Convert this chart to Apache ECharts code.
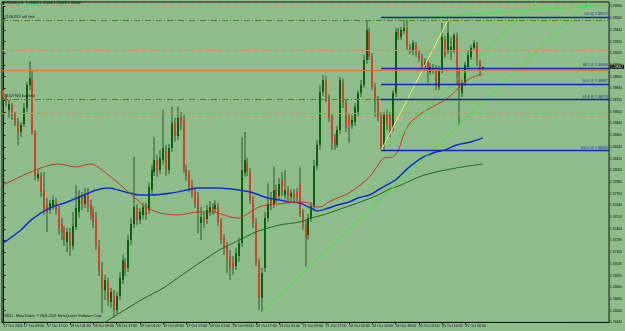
<!DOCTYPE html>
<html><head><meta charset="utf-8">
<script src="https://cdn.jsdelivr.net/npm/echarts/dist/echarts.min.js"></script>
<style>html,body{margin:0;padding:0;background:#8ebc8a}#c{width:625px;height:331px}</style>
</head><body><div id="c"></div><script>
// ---- data ----
const slotCount = 209; // hourly slots incl. empty right shift
const xTickIdx = [0,7,15,23,31,39,47,55,63,71,79,87,95,103,111,119,127,135,143,151,159];
const xTickText = ['17 Oct 2011','17 Oct 09:00','17 Oct 17:00','18 Oct 01:00','18 Oct 09:00','18 Oct 17:00','19 Oct 01:00','19 Oct 09:00','19 Oct 17:00','20 Oct 01:00','20 Oct 09:00','20 Oct 17:00','21 Oct 01:00','21 Oct 09:00','21 Oct 17:00','24 Oct 02:00','24 Oct 10:00','24 Oct 18:00','25 Oct 02:00','25 Oct 10:00','25 Oct 18:00'];
const yMin = 1.3644, yMax = 1.39726, yStep = 0.0012;
// [open, high, low, close]
const candles = [
[1.38824,1.38855,1.38691,1.38742],[1.38752,1.38783,1.38650,1.38701],[1.38619,1.38721,1.38537,1.38680],[1.38670,1.38691,1.38516,1.38568],
[1.38568,1.38598,1.38455,1.38496],[1.38496,1.38537,1.38260,1.38393],[1.38393,1.38496,1.38342,1.38465],[1.38475,1.38691,1.38444,1.38639],
[1.38639,1.38906,1.38598,1.38875],[1.38875,1.39121,1.38824,1.38947],[1.38927,1.39029,1.38362,1.38383],[1.38383,1.38414,1.37901,1.37942],
[1.37921,1.38003,1.37891,1.37962],[1.37952,1.37983,1.37727,1.37778],[1.37798,1.37983,1.37542,1.37573],[1.37645,1.37716,1.37368,1.37562],
[1.37593,1.37696,1.37552,1.37665],[1.37634,1.37737,1.37593,1.37696],[1.37675,1.37716,1.37542,1.37593],[1.37593,1.37634,1.37337,1.37409],
[1.37450,1.37511,1.37286,1.37357],[1.37388,1.37429,1.37224,1.37286],[1.37265,1.37409,1.37162,1.37368],[1.37368,1.37409,1.37121,1.37224],
[1.37224,1.37573,1.37183,1.37429],[1.37419,1.37850,1.37388,1.37614],[1.37573,1.37798,1.37511,1.37737],[1.37737,1.37778,1.37593,1.37645],
[1.37655,1.37819,1.37614,1.37747],[1.37778,1.37819,1.37573,1.37624],[1.37645,1.37696,1.37491,1.37542],[1.37573,1.37624,1.37409,1.37470],
[1.37511,1.37573,1.37183,1.37224],[1.37224,1.37286,1.36916,1.36978],[1.36978,1.37060,1.36537,1.36773],[1.36773,1.36927,1.36670,1.36875],
[1.36855,1.36896,1.36609,1.36670],[1.36650,1.36793,1.36589,1.36752],[1.36721,1.36773,1.36486,1.36568],[1.36568,1.36752,1.36527,1.36711],
[1.36711,1.36957,1.36670,1.36896],[1.36875,1.37132,1.36834,1.37080],[1.37060,1.37101,1.36916,1.36978],[1.36998,1.37337,1.36957,1.37286],
[1.37286,1.37511,1.37234,1.37450],[1.37450,1.38137,1.37409,1.37624],[1.37614,1.37655,1.37439,1.37491],[1.37491,1.37614,1.37450,1.37573],
[1.37542,1.37665,1.37501,1.37624],[1.37624,1.37665,1.37491,1.37542],[1.37593,1.37870,1.37552,1.37829],[1.37798,1.38055,1.37757,1.38003],
[1.37983,1.38342,1.37942,1.38106],[1.38106,1.38157,1.37932,1.37983],[1.38003,1.38209,1.37962,1.38127],[1.38106,1.38619,1.38055,1.38229],
[1.38209,1.38260,1.37942,1.38003],[1.38003,1.38270,1.37962,1.38229],[1.38229,1.38650,1.38188,1.38486],[1.38486,1.38537,1.38291,1.38352],
[1.38352,1.38650,1.38311,1.38537],[1.38537,1.38598,1.38414,1.38465],[1.38516,1.38568,1.37973,1.38003],[1.38003,1.38055,1.37891,1.37942],
[1.37962,1.38003,1.37778,1.37829],[1.37850,1.37901,1.37716,1.37768],[1.37778,1.37819,1.37614,1.37665],[1.37737,1.37778,1.37357,1.37562],
[1.37460,1.37624,1.37286,1.37521],[1.37521,1.37573,1.37409,1.37470],[1.37501,1.37645,1.37450,1.37593],[1.37573,1.37685,1.37532,1.37624],
[1.37624,1.37665,1.37542,1.37583],[1.37603,1.37696,1.37562,1.37645],[1.37634,1.37665,1.37429,1.37470],[1.37470,1.37511,1.37244,1.37286],
[1.37306,1.37347,1.37132,1.37204],[1.37224,1.37265,1.36947,1.37101],[1.37121,1.37183,1.36875,1.37009],[1.37060,1.37121,1.36927,1.36998],
[1.37019,1.37204,1.36978,1.37152],[1.37121,1.37306,1.37060,1.37255],[1.37255,1.38342,1.37214,1.38003],[1.37973,1.38393,1.37932,1.38106],
[1.38075,1.38127,1.37942,1.37983],[1.37983,1.38024,1.37655,1.37696],[1.37696,1.37737,1.37409,1.37460],[1.37460,1.37511,1.37019,1.37050],
[1.37050,1.37101,1.36568,1.36691],[1.36691,1.36998,1.36547,1.36947],[1.36998,1.37573,1.36957,1.37511],[1.37511,1.37870,1.37470,1.37655],
[1.37716,1.37778,1.37593,1.37645],[1.37655,1.38034,1.37614,1.37798],[1.37798,1.37850,1.37665,1.37706],[1.37737,1.37921,1.37696,1.37860],
[1.37901,1.37983,1.37737,1.37778],[1.37747,1.38003,1.37706,1.37798],[1.37798,1.37839,1.37685,1.37727],[1.37727,1.37809,1.37685,1.37768],
[1.37768,1.37809,1.37675,1.37716],[1.37778,1.37819,1.37685,1.37727],[1.37860,1.38034,1.37521,1.37562],[1.37562,1.37603,1.37388,1.37439],
[1.37439,1.37491,1.37009,1.37306],[1.37337,1.37552,1.37286,1.37511],[1.37511,1.37675,1.37470,1.37634],[1.37634,1.38106,1.37593,1.38045],
[1.38045,1.38311,1.38003,1.38260],[1.38260,1.38875,1.38209,1.38803],[1.38803,1.38978,1.38762,1.38927],[1.38927,1.38968,1.38701,1.38742],
[1.38732,1.38773,1.38496,1.38537],[1.38537,1.38578,1.38209,1.38291],[1.38332,1.38373,1.38209,1.38260],[1.38260,1.38455,1.38229,1.38414],
[1.38414,1.38957,1.38373,1.38927],[1.38906,1.38937,1.38639,1.38691],[1.38691,1.38721,1.38393,1.38434],[1.38537,1.38578,1.38280,1.38465],
[1.38465,1.38568,1.38424,1.38516],[1.38496,1.38691,1.38455,1.38650],[1.38598,1.38824,1.38557,1.38793],[1.38793,1.38927,1.38752,1.38875],
[1.38875,1.39183,1.38844,1.39132],[1.39132,1.39532,1.39091,1.39439],[1.39419,1.39460,1.39132,1.39162],[1.39162,1.39203,1.38824,1.38855],
[1.38855,1.38896,1.38547,1.38721],[1.38721,1.38762,1.38506,1.38547],[1.38547,1.38598,1.38202,1.38239],[1.38260,1.38598,1.38209,1.38568],
[1.38588,1.38619,1.38414,1.38465],[1.38568,1.38598,1.38342,1.38383],[1.38444,1.38824,1.38403,1.38793],[1.38793,1.39460,1.38752,1.39419],
[1.39419,1.39460,1.39337,1.39378],[1.39368,1.39470,1.39337,1.39439],[1.39429,1.39542,1.39398,1.39460],[1.39460,1.39542,1.39234,1.39265],
[1.39265,1.39296,1.39193,1.39234],[1.39234,1.39337,1.39183,1.39306],[1.39285,1.39316,1.39162,1.39203],[1.39203,1.39234,1.39111,1.39152],
[1.39162,1.39193,1.39029,1.39060],[1.39060,1.39152,1.39029,1.39111],[1.39111,1.39142,1.38896,1.39009],[1.39009,1.39101,1.38978,1.39060],
[1.39060,1.39091,1.38988,1.39029],[1.39050,1.39080,1.38824,1.38855],[1.38855,1.39070,1.38824,1.39029],[1.39029,1.39511,1.38998,1.39368],
[1.39337,1.39378,1.39152,1.39183],[1.39234,1.39572,1.39193,1.39409],[1.39234,1.39368,1.39132,1.39265],[1.39234,1.39409,1.39203,1.39388],
[1.39368,1.39409,1.38875,1.39009],[1.39009,1.39050,1.38465,1.38844],[1.38793,1.38927,1.38752,1.38896],[1.38896,1.39111,1.38865,1.39080],
[1.39060,1.39234,1.39029,1.39183],[1.39162,1.39285,1.39132,1.39255],[1.39255,1.39337,1.39234,1.39306],[1.39285,1.39316,1.39070,1.39111],
[1.39111,1.39132,1.38968,1.39019],[1.39053,1.39066,1.39026,1.39062]
];
// moving averages read at bar positions: [bar, price]
const maRed = [[0,1.37850],[11,1.38003],[19,1.38065],[25,1.38034],[30,1.38065],[32,1.38045],[37,1.37932],[43,1.37778],[49,1.37624],[54,1.37562],[60,1.37542],[67,1.37573],[71,1.37573],[74,1.37562],[78,1.37521],[81,1.37511],[85,1.37573],[88,1.37624],[91,1.37645],[98,1.37665],[102,1.37675],[105,1.37665],[107,1.37624],[109,1.37624],[112,1.37675],[115,1.37716],[119,1.37768],[122,1.37829],[126,1.37932],[129,1.38055],[131,1.38127],[134,1.38137],[136,1.38209],[138,1.38383],[140,1.38486],[144,1.38588],[147,1.38639],[152,1.38721],[155,1.38793],[157,1.38855],[159,1.38906],[161,1.38947],[165,1.38988]];
const maBlue = [[0,1.37255],[6,1.37388],[10,1.37501],[16,1.37614],[22,1.37675],[27,1.37737],[32,1.37798],[36,1.37819],[42,1.37778],[47,1.37747],[51,1.37747],[58,1.37768],[63,1.37798],[67,1.37819],[74,1.37819],[81,1.37798],[85,1.37778],[88,1.37747],[91,1.37716],[95,1.37696],[98,1.37675],[102,1.37665],[105,1.37624],[108,1.37583],[112,1.37614],[115,1.37645],[119,1.37675],[122,1.37716],[126,1.37747],[129,1.37798],[132,1.37850],[135,1.37901],[139,1.38014],[144,1.38127],[149,1.38188],[152,1.38209],[156,1.38260],[161,1.38291],[165,1.38332]];
const maGreen = [[34,1.36424],[40,1.36537],[48,1.36680],[55,1.36793],[62,1.36937],[68,1.37060],[75,1.37193],[82,1.37296],[86,1.37357],[89,1.37388],[95,1.37439],[102,1.37470],[106,1.37511],[110,1.37542],[115,1.37593],[122,1.37665],[129,1.37747],[133,1.37809],[136,1.37839],[145,1.37952],[156,1.38024],[165,1.38065]];
// drawn objects
const trendLower = [[89,1.36547],[201.5,1.39726]];
const trendMid = [[132.9,1.38250],[184,1.39747]];
const trendTop = [[125.7,1.39532],[208.5,1.39695]];
const fibLine = [[130,1.38202],[153.6,1.39572]];
const fibLevels = ['0.0','38.2','50.0','61.8','100.0'];
const fibPrices = [1.39572,1.39049,1.38887,1.38725,1.38202];
const fibStart = 130, leftEdge = -0.5, rightEdge = 208.5;
const dashLevels = [1.39695,1.39234,1.38588];
const solidLevel = 1.39030;
const orderLevels = [1.39542,1.38732];
const orderText = ['#11684952 sell limit','#11527900 buy limit'];
const bidPrice = 1.39062;
const titleText = 'EURUSD,H1  1.39053 1.39066 1.39026 1.39062';
const footText = 'FXDD - MetaTrader, \u00a9 2001-2011 MetaQuotes Software Corp.';

// ---- chart ----
const FONT = 'Liberation Sans';
const cats = Array.from({length: slotCount}, (_, i) => String(i));
const tickMap = {}; xTickIdx.forEach((k, j) => tickMap[k] = xTickText[j]);
const chart = echarts.init(document.getElementById('c'));

function renderCandle(params, api) {
  const i = api.value(0), o = api.value(1), h = api.value(2), l = api.value(3), c = api.value(4);
  const po = api.coord([i, o]), pc = api.coord([i, c]), ph = api.coord([i, h]), pl = api.coord([i, l]);
  const xc = Math.round(po[0]);
  const up = c >= o;
  const top = Math.round(Math.min(po[1], pc[1])), bot = Math.round(Math.max(po[1], pc[1]));
  return {type: 'group', children: [
    {type: 'line', shape: {x1: xc, y1: ph[1], x2: xc, y2: pl[1]}, style: {stroke: '#2d5a2a', lineWidth: 1}},
    {type: 'rect', shape: {x: xc - 1, y: top, width: 2, height: Math.max(1, bot - top)}, style: {fill: up ? '#0d600d' : '#c8472f'}}
  ]};
}

const lineSeries = (data, color, width, extra) => Object.assign({
  type: 'line', xAxisIndex: 1, data: data, symbol: 'none', silent: true,
  lineStyle: {color: color, width: width}, clip: true, z: 3
}, extra || {});

const hLine = (x0, x1, v, style, label) => [
  {coord: [x0, v], lineStyle: style, label: label || {show: false}},
  {coord: [x1, v]}
];
const markLineData = [];
dashLevels.forEach(v => markLineData.push(hLine(leftEdge, rightEdge, v, {color: '#c99552', type: [4, 3], width: 1})));
markLineData.push(hLine(leftEdge, rightEdge, solidLevel, {color: '#c97a34', type: 'solid', width: 1}));
orderLevels.forEach((v, j) => markLineData.push(hLine(leftEdge, rightEdge, v, {color: '#5a7f2c', type: [6, 2, 1, 2], width: 1},
  {show: true, position: 'insideStartTop', formatter: orderText[j], color: '#1a1a1a', fontSize: 3.6, fontFamily: FONT, distance: [1, 1]})));
fibPrices.forEach((v, j) => markLineData.push(hLine(fibStart, rightEdge, v, {color: '#1028b0', width: 1.3, type: 'solid'},
  {show: true, position: 'insideEndTop', formatter: fibLevels[j] + ' @ ' + v.toFixed(5), color: '#1028b0', fontSize: 3.6, fontFamily: FONT, distance: [1, 1]})));
markLineData.push(hLine(rightEdge - 1, rightEdge, bidPrice, {color: 'rgba(0,0,0,0)', width: 0},
  {show: true, position: 'end', formatter: bidPrice.toFixed(5), color: '#fff', backgroundColor: '#000', fontSize: 3.3, fontFamily: FONT, padding: [1, 1, 0, 1], distance: 1}));

chart.setOption({
  animation: false,
  backgroundColor: '#8ebc8a',
  grid: {left: 2, right: 13.5, top: 2, bottom: 8.6, show: true, borderColor: '#111', borderWidth: 1, backgroundColor: 'transparent'},
  xAxis: [
    {type: 'category', data: cats, boundaryGap: true,
     axisLine: {lineStyle: {color: '#111', width: 1}},
     axisTick: {show: true, alignWithLabel: true, length: 2, interval: (i) => tickMap[i] !== undefined, lineStyle: {color: '#111'}},
     axisLabel: {interval: (i) => tickMap[i] !== undefined, formatter: (v, i) => tickMap[i] || '', align: 'left', margin: 1.5,
                 fontSize: 3.6, fontFamily: FONT, color: '#111'},
     splitLine: {show: false}},
    {type: 'value', min: -0.5, max: slotCount - 0.5, show: false}
  ],
  yAxis: {type: 'value', position: 'right', min: yMin, max: yMax, interval: yStep, scale: true,
    axisLine: {show: true, lineStyle: {color: '#111', width: 1}},
    axisTick: {show: true, length: 2, lineStyle: {color: '#111'}},
    axisLabel: {formatter: (v) => v.toFixed(5), fontSize: 3.3, fontFamily: FONT, color: '#111', margin: 1, showMaxLabel: false},
    splitLine: {show: false}},
  graphic: [
    {type: 'text', left: 3, top: 1, style: {text: titleText, fontSize: 3.6, fontFamily: FONT, fill: '#111'}},
    {type: 'text', left: 3, top: 314, style: {text: footText, fontSize: 3.6, fontFamily: FONT, fill: '#111'}}
  ],
  series: [
    {type: 'line', xAxisIndex: 1, data: [], silent: true,
     markLine: {silent: true, symbol: ['none', 'none'], animation: false, data: markLineData}, z: 1},
    lineSeries(maGreen, '#1d6b1d', 1, {smooth: 0.3}),
    lineSeries(maBlue, '#1030c8', 1.5, {smooth: 0.3}),
    lineSeries(maRed, '#c03a26', 1, {smooth: 0.3}),
    {type: 'custom', xAxisIndex: 0, renderItem: renderCandle, clip: true, z: 2,
     encode: {x: 0, y: [1, 2, 3, 4]},
     data: candles.map((r, i) => [i, r[0], r[1], r[2], r[3]])},
    lineSeries(trendLower, '#44e244', 1, {z: 4}),
    lineSeries(trendMid, '#44e244', 1, {z: 4}),
    lineSeries(trendTop, '#44e244', 1, {z: 4}),
    lineSeries(fibLine, '#eef06a', 1, {z: 4})
  ]
});
</script></body></html>
